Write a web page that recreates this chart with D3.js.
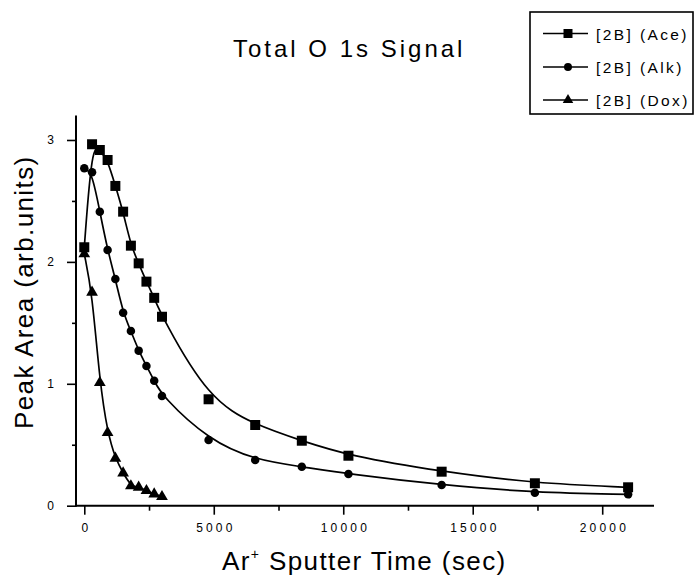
<!DOCTYPE html>
<html><head><meta charset="utf-8">
<script src="https://cdn.jsdelivr.net/npm/d3@7"></script>
<style>body{margin:0;background:#fff}</style>
</head><body><svg id="c" width="696" height="575" xmlns="http://www.w3.org/2000/svg"></svg>
<script>
const seriesNames = ["[2B] (Ace)", "[2B] (Alk)", "[2B] (Dox)"];
const timesAce = [0,300,600,900,1200,1500,1800,2100,2400,2700,3000,4800,6600,8400,10200,13800,17400,21000];
const valuesAce = [2.12,2.965,2.918,2.836,2.623,2.412,2.133,1.988,1.838,1.705,1.55,0.873,0.662,0.533,0.41,0.279,0.184,0.151];
const timesAlk = [0,300,600,900,1200,1500,1800,2100,2400,2700,3000,4800,6600,8400,10200,13800,17400,21000];
const valuesAlk = [2.768,2.735,2.412,2.098,1.86,1.583,1.433,1.272,1.146,1.025,0.9,0.539,0.375,0.32,0.26,0.17,0.107,0.093];
const timesDox = [0,300,600,900,1200,1500,1800,2100,2400,2700,3000];
const valuesDox = [2.065,1.75,1.009,0.599,0.389,0.268,0.162,0.151,0.123,0.096,0.074];
const xMajorTicks = [0,5000,10000,15000,20000];
const xMinorTicks = [2500,7500,12500,17500];
const yMajorTicks = [0,1,2,3];
const yMinorTicks = [0.5,1.5,2.5];

const svg = d3.select("#c");
const font = "'Liberation Sans', Arial, sans-serif";
const x = d3.scaleLinear().domain([-320, 22000]).range([76, 654]);
const y = d3.scaleLinear().domain([0, 3.2]).range([505.7, 115.6]);
const x0 = 76, y0 = 505.7;

// axes
const gx = svg.append("g").attr("transform", `translate(0,${y0})`)
  .call(d3.axisBottom(x).tickValues(xMajorTicks).tickSize(9).tickPadding(9).tickFormat(d3.format("d")));
const gxm = svg.append("g").attr("transform", `translate(0,${y0})`)
  .call(d3.axisBottom(x).tickValues(xMinorTicks).tickSize(5).tickFormat(""));
const gy = svg.append("g").attr("transform", `translate(${x0},0)`)
  .call(d3.axisLeft(y).tickValues(yMajorTicks).tickSize(9).tickPadding(13).tickFormat(d3.format("d")));
const gym = svg.append("g").attr("transform", `translate(${x0},0)`)
  .call(d3.axisLeft(y).tickValues(yMinorTicks).tickSize(4).tickFormat(""));
[gx, gxm, gy, gym].forEach(g => {
  g.select(".domain").remove();
  g.selectAll(".tick line").attr("stroke", "#000").attr("stroke-width", 1.6);
  g.selectAll(".tick text").attr("font-family", font).attr("font-size", 12).attr("fill", "#000");
});
gx.selectAll(".tick text").attr("letter-spacing", 3.2).attr("dx", 1.6);
svg.append("line").attr("x1", x0).attr("x2", x.range()[1]).attr("y1", y0).attr("y2", y0)
  .attr("stroke", "#000").attr("stroke-width", 2);
svg.append("line").attr("x1", x0).attr("x2", x0).attr("y1", y0 + 1).attr("y2", y.range()[1])
  .attr("stroke", "#000").attr("stroke-width", 2);

// titles
svg.append("text").attr("x", 233).attr("y", 56.5).attr("text-anchor", "start")
  .attr("font-family", font).attr("font-size", 24).attr("letter-spacing", 3).text("Total O 1s Signal");
svg.append("text").attr("transform", "translate(33,429) rotate(-90)").attr("text-anchor", "start")
  .attr("font-family", font).attr("font-size", 26).attr("letter-spacing", 1.4).text("Peak Area (arb.units)");
const xt = svg.append("text").attr("x", 222).attr("y", 570).attr("text-anchor", "start")
  .attr("font-family", font).attr("font-size", 26).attr("letter-spacing", 1.4);
xt.append("tspan").text("Ar");
xt.append("tspan").attr("font-size", 14).attr("dy", -11).text("+");
xt.append("tspan").attr("dy", 11).text(" Sputter Time (sec)");

// series
const series = [
  {t: timesAce, v: valuesAce, sym: d3.symbolSquare, size: 100, lsize: 81},
  {t: timesAlk, v: valuesAlk, sym: d3.symbolCircle, size: 57, lsize: 50},
  {t: timesDox, v: valuesDox, sym: d3.symbolTriangle, size: 60, lsize: 48}
];
const line = d3.line().x(d => x(d[0])).y(d => y(d[1])).curve(d3.curveBasis);
series.forEach(s => {
  const pts = s.t.map((t, i) => [t, s.v[i]]);
  svg.append("path").attr("d", line(pts)).attr("fill", "none").attr("stroke", "#000").attr("stroke-width", 1.7);
  svg.append("g").selectAll("path").data(pts).join("path")
    .attr("transform", d => `translate(${x(d[0])},${y(d[1])})`)
    .attr("d", d3.symbol().type(s.sym).size(s.size)).attr("fill", "#000");
});

// legend
svg.append("rect").attr("x", 530).attr("y", 12).attr("width", 163).attr("height", 102)
  .attr("fill", "#fff").attr("stroke", "#000").attr("stroke-width", 1.6);
const rowY = [33.5, 67, 100];
series.forEach((s, i) => {
  const ly = rowY[i];
  svg.append("line").attr("x1", 543).attr("x2", 588).attr("y1", ly).attr("y2", ly)
    .attr("stroke", "#000").attr("stroke-width", 1.6);
  svg.append("path").attr("transform", `translate(568,${ly})`)
    .attr("d", d3.symbol().type(s.sym).size(s.lsize)).attr("fill", "#000");
  svg.append("text").attr("x", 596).attr("y", ly + 6).attr("font-family", font).attr("font-size", 15.5)
    .attr("letter-spacing", 2.4).text(seriesNames[i]);
});
</script>
</body></html>
